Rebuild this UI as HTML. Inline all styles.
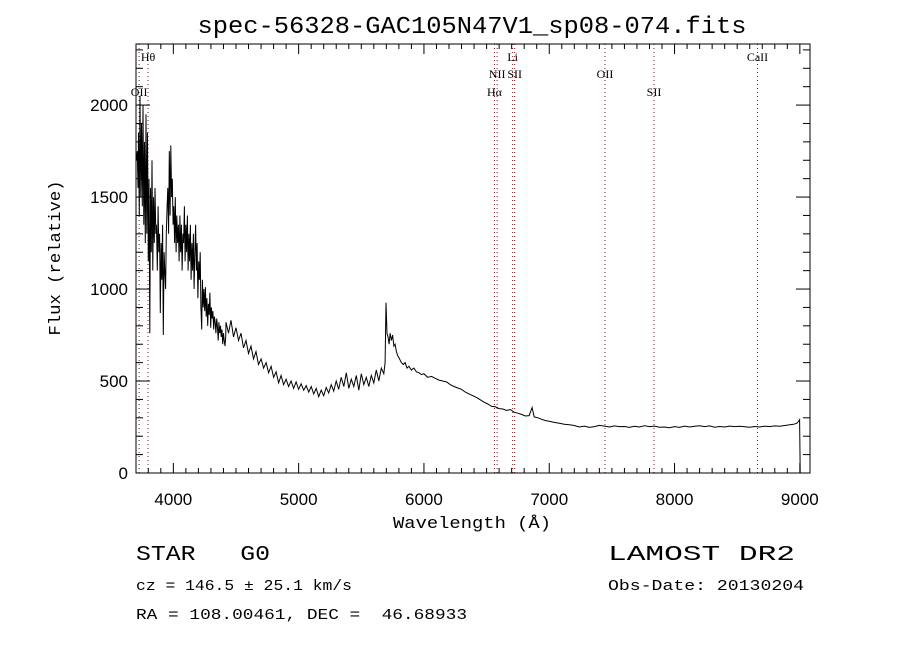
<!DOCTYPE html>
<html><head><meta charset="utf-8"><style>
html,body{margin:0;padding:0;background:#fff;}
svg{display:block;}
text{fill:#000;}
</style></head><body>
<svg id="chart" width="900" height="650" xmlns="http://www.w3.org/2000/svg">
<rect x="0" y="0" width="900" height="650" fill="#fff"/>
<text x="472" y="33" font-family="Liberation Mono, monospace" font-size="24" text-anchor="middle" textLength="549" lengthAdjust="spacingAndGlyphs">spec-56328-GAC105N47V1_sp08-074.fits</text>
<g id="lines"></g>
<g id="axes"></g>
<path id="spec" fill="none" stroke="#000" stroke-width="1"/>
<rect x="136" y="44" width="674" height="429" fill="none" stroke="#000" stroke-width="1"/>
<text transform="translate(60,258) rotate(-90)" font-family="Liberation Mono, monospace" font-size="17" text-anchor="middle" textLength="155" lengthAdjust="spacingAndGlyphs">Flux (relative)</text>
<text x="472" y="528" font-family="Liberation Mono, monospace" font-size="17" text-anchor="middle" textLength="158" lengthAdjust="spacingAndGlyphs">Wavelength (Å)</text>
<text x="136" y="560" font-family="Liberation Mono, monospace" font-size="21" textLength="134" lengthAdjust="spacingAndGlyphs" xml:space="preserve">STAR   G0</text>
<text x="608" y="560" font-family="Liberation Mono, monospace" font-size="21" textLength="187" lengthAdjust="spacingAndGlyphs">LAMOST DR2</text>
<text x="136" y="590" font-family="Liberation Mono, monospace" font-size="15" textLength="216" lengthAdjust="spacingAndGlyphs">cz = 146.5 ± 25.1 km/s</text>
<text x="608" y="590" font-family="Liberation Mono, monospace" font-size="15" textLength="196" lengthAdjust="spacingAndGlyphs">Obs-Date: 20130204</text>
<text x="136" y="619" font-family="Liberation Mono, monospace" font-size="15" textLength="331" lengthAdjust="spacingAndGlyphs" xml:space="preserve">RA = 108.00461, DEC =  46.68933</text>
</svg>
<script>
const wavelengths = [
3705,3712,3718,3722,3728,3734,3740,3746,3752,3758,
3764,3770,3776,3782,3788,3794,3800,3806,3812,3818,
3824,3830,3836,3842,3848,3854,3860,3866,3872,3878,
3884,3890,3896,3902,3908,3914,3920,3926,3932,3938,
3944,3950,3956,3962,3968,3974,3980,3986,3992,3998,
4004,4010,4016,4022,4028,4034,4040,4046,4052,4058,
4064,4070,4076,4082,4088,4094,4100,4106,4112,4118,
4124,4130,4136,4142,4148,4154,4160,4166,4172,4178,
4184,4190,4196,4202,4208,4214,4220,4226,4232,4238,
4244,4250,4256,4262,4268,4274,4280,4286,4292,4298,
4304,4310,4316,4322,4328,4334,4340,4346,4352,4358,
4364,4370,4376,4382,4388,4394,4400,4406,4412,4418,
4420,4440,4460,4480,4500,4520,4540,4560,4580,4600,
4620,4640,4660,4680,4700,4720,4740,4760,4780,4800,
4820,4840,4860,4880,4900,4920,4940,4960,4980,5000,
5020,5040,5060,5080,5100,5120,5140,5160,5180,5200,
5220,5240,5260,5280,5300,5320,5340,5360,5380,5400,
5420,5440,5460,5480,5500,5520,5540,5560,5580,5600,
5620,5640,5660,5680,
5690,5697,5705,5713,5722,5730,5740,5750,5760,5770,5780,5790,
5805,5820,5835,5850,5865,5880,5900,5920,5940,5960,5980,6000,
6030,6060,6090,6120,6150,6180,6210,6240,6270,6300,
6330,6360,6390,6420,6450,6480,6510,6540,6570,6600,
6630,6660,6690,6720,6750,6780,6810,6840,
6863,6880,6910,6940,6970,7000,
7040,7080,7120,7160,7200,7240,7280,7320,7360,7400,
7440,7480,7520,7560,7600,7640,7680,7720,7760,7800,
7840,7880,7920,7960,8000,8040,8080,8120,8160,8200,
8240,8280,8320,8360,8400,8440,8480,8520,8560,8600,
8640,8680,8720,8760,8800,8840,8880,8920,
8950,8975,8990,8998,9003];
const fluxes = [
1700,1750,1550,1850,1400,2050,1500,1900,1450,2000,
1350,1800,1250,1950,1300,1850,1150,1600,760,1550,
1200,1700,1100,1500,1250,1550,1300,1350,1100,1450,
1200,1300,870,1250,1050,1350,750,1200,1100,1000,
1300,1450,1550,1300,1750,1400,1780,1500,1600,1350,
1450,1250,1500,1200,1400,1250,1350,1150,1400,1200,
1350,1100,1300,1250,1450,1150,1350,1200,1400,1100,
1300,1150,1350,1050,1250,1100,1300,1000,1200,1350,
1100,1250,950,1150,1050,1200,900,780,1050,900,
1000,880,1010,850,950,800,920,860,980,790,
900,840,880,780,850,820,760,840,800,720,
820,760,800,740,780,700,760,720,690,740,
820,760,830,740,790,720,760,680,720,650,
690,620,660,590,620,570,600,545,580,520,
550,490,530,480,510,470,500,460,495,455,
485,450,475,440,470,430,460,415,450,420,
465,435,480,445,500,455,520,470,545,460,
510,470,530,450,540,480,520,470,530,490,
560,500,570,540,
600,926,760,740,700,760,720,750,690,700,660,640,
620,600,590,600,570,580,560,570,550,545,535,540,
520,525,515,505,500,495,480,470,462,455,
440,430,420,410,398,385,375,362,360,350,
348,340,345,330,325,318,310,312,
356,305,300,292,285,281,
275,270,265,262,258,250,255,248,252,259,
255,250,256,252,253,248,254,250,257,252,
255,249,250,246,252,248,255,250,254,257,
252,256,249,253,250,255,252,254,251,249,
253,250,255,252,256,254,258,262,
265,270,281,290,0];
const xTicksMajor = [4000,5000,6000,7000,8000,9000];
const xTickLabels = ["4000","5000","6000","7000","8000","9000"];
const yTicksMajor = [0,500,1000,1500,2000];
const yTickLabels = ["0","500","1000","1500","2000"];
const lineWavelengths = [3727,3798,6563,6584,6708,6724,7445,7836,8662];
const lineLabelTexts = ["OII","Hθ","Hα","NII","Li","SII","OII","SII","CaII"];
const lineLabelRows = [3,1,3,2,1,2,2,3,1];

const X0=136,X1=810,Y0=473,Y1=44;
const WMIN=3702,WMAX=9081,FMIN=0,FMAX=2332;
const xs=w=>X0+(w-WMIN)/(WMAX-WMIN)*(X1-X0);
const ys=f=>Y0-(f-FMIN)/(FMAX-FMIN)*(Y0-Y1);
const NS="http://www.w3.org/2000/svg";

let d="";
const n=Math.min(wavelengths.length,fluxes.length);
for(let i=0;i<n;i++){d+=(i?"L":"M")+xs(wavelengths[i]).toFixed(1)+","+ys(Math.max(fluxes[i],FMIN)).toFixed(1);}
document.getElementById('spec').setAttribute('d',d);

const axes=document.getElementById('axes');
function ln(x1,y1,x2,y2,name,col,dash){const l=document.createElementNS(NS,'line');l.setAttribute('x1',x1);l.setAttribute('y1',y1);l.setAttribute('x2',x2);l.setAttribute('y2',y2);l.setAttribute('stroke',col||'#000');l.setAttribute('stroke-width','1');if(dash)l.setAttribute('stroke-dasharray',dash);


return l;}
function tx(x,y,s,anchor,size,fam,name){const t=document.createElementNS(NS,'text');t.setAttribute('x',x);t.setAttribute('y',y);t.setAttribute('text-anchor',anchor);t.setAttribute('font-size',size);t.setAttribute('font-family',fam);t.textContent=s;


return t;}
for(let w=3800;w<=9000;w+=100){const x=xs(w);const len=(w%1000===0)?10:5;
axes.appendChild(ln(x,Y0,x,Y0-len,'x-tick'));axes.appendChild(ln(x,Y1,x,Y1+len,'x-tick-top'));}
xTicksMajor.forEach((w,i)=>axes.appendChild(tx(xs(w),505,xTickLabels[i],'middle',17,'Liberation Sans, sans-serif','x-tick-label')));
for(let f=0;f<=2300;f+=100){const y=ys(f);const len=(f%500===0)?14:7;
axes.appendChild(ln(X0,y,X0+len,y,'y-tick'));axes.appendChild(ln(X1,y,X1-len,y,'y-tick-right'));}
yTicksMajor.forEach((f,i)=>axes.appendChild(tx(128,ys(f)+6,yTickLabels[i],'end',17,'Liberation Sans, sans-serif','y-tick-label')));

const lg=document.getElementById('lines');
const rowY=[0,61,78,96];
lineWavelengths.forEach((w,i)=>{const x=xs(w);
lg.appendChild(ln(x,Y1,x,Y0,'emission-line-marker','#8b1a1a','1,3'));
lg.appendChild(tx(x,rowY[lineLabelRows[i]],lineLabelTexts[i],'middle',12,'Liberation Serif, serif','emission-line-label'));});
</script>
</body></html>
